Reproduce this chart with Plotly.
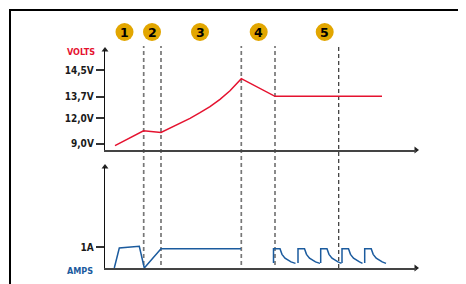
import plotly.graph_objects as go

# ---------------- data (schematic units) ----------------
# time axis: schematic time units measured from the axis origin
phase_numbers = ["1", "2", "3", "4", "5"]
phase_label_t = [19.5, 47.0, 95.0, 153.7, 219.7]
phase_bounds_t = [38.7, 56.0, 136.3, 170.0, 233.7]

# voltage axis is schematic (not linear in volts): tick levels + labels
volt_tick_labels = ["9,0V", "12,0V", "13,7V", "14,5V"]
volt_tick_levels = [6.5, 31.7, 53.3, 80.0]

volt_t = [10.0, 38.5, 56.0, 65.0, 75.0, 85.0, 95.0, 105.0, 115.0, 125.0, 136.3, 170.0, 277.0]
volt_level = [4.3, 19.2, 17.5, 21.7, 26.7, 31.7, 37.3, 43.3, 50.7, 59.3, 71.3, 53.7, 53.7]

# current axis in amps
amp_tick_labels = ["1A"]
amp_tick_values = [1.0]

amp_t = [9.3, 14.3, 34.3, 39.3, 56.0, 136.0, None,
         168.5, 168.5, 175.0, 177.0, 180.0, 183.0, 186.0, 190.5, None,
         193.0, 193.0, 199.5, 201.5, 204.5, 207.5, 210.5, 215.0, None,
         215.7, 215.7, 222.0, 224.0, 227.0, 230.0, 233.0, 236.5, None,
         237.0, 237.0, 243.5, 245.5, 248.5, 251.5, 254.5, 257.5, None,
         259.7, 259.7, 266.2, 268.2, 271.2, 274.2, 277.2, 281.0]
amp_a = [0.0, 0.95, 1.03, 0.0, 0.92, 0.92, None,
         0.24, 0.92, 0.92, 0.65, 0.47, 0.36, 0.29, 0.22, None,
         0.24, 0.92, 0.92, 0.65, 0.47, 0.36, 0.29, 0.22, None,
         0.24, 0.92, 0.92, 0.65, 0.47, 0.36, 0.29, 0.22, None,
         0.24, 0.92, 0.92, 0.65, 0.47, 0.36, 0.29, 0.22, None,
         0.24, 0.92, 0.92, 0.65, 0.47, 0.36, 0.29, 0.22]

# ---------------- styling / layout ----------------
OFF = 8                      # default page margin of the html body
W, H = 466 - OFF, 284 - OFF
PLOT_L, PLOT_R, PLOT_T, PLOT_B = 105, 416, 50, 268   # window pixel coords
ML, MT = PLOT_L - OFF, PLOT_T - OFF
MR, MB = W - (PLOT_R - OFF), H - (PLOT_B - OFF)
PW, PH = PLOT_R - PLOT_L, PLOT_B - PLOT_T
T_RANGE = [0, 311]
V_RANGE = [0, 100]
A_RANGE = [0, 4.81]


def px_x(px):
    return (px - PLOT_L) / PW


def px_y(py):
    return (PLOT_B - py) / PH


RED = "#e5122f"
BLUE = "#1b5b9e"
GOLD = "#e2a600"
FONT = "DejaVu Sans Condensed, Liberation Sans Narrow, Liberation Sans, Arial, sans-serif"

fig = go.Figure()
fig.add_trace(go.Scatter(x=volt_t, y=volt_level, mode="lines",
                         line=dict(color=RED, width=1.5), xaxis="x", yaxis="y",
                         hoverinfo="skip"))
fig.add_trace(go.Scatter(x=amp_t, y=amp_a, mode="lines", connectgaps=False,
                         line=dict(color=BLUE, width=1.5), xaxis="x2", yaxis="y2",
                         hoverinfo="skip"))
# axis arrow heads
fig.add_trace(go.Scatter(x=[T_RANGE[0], T_RANGE[1]], y=[V_RANGE[1], V_RANGE[0]], mode="markers",
                         marker=dict(symbol=["triangle-up", "triangle-right"], size=6, color="#222"),
                         cliponaxis=False, xaxis="x", yaxis="y", hoverinfo="skip"))
fig.add_trace(go.Scatter(x=[T_RANGE[0], T_RANGE[1]], y=[A_RANGE[1], A_RANGE[0]], mode="markers",
                         marker=dict(symbol=["triangle-up", "triangle-right"], size=6, color="#222"),
                         cliponaxis=False, xaxis="x2", yaxis="y2", hoverinfo="skip"))

shapes = []
# outer frame (cut by the image edges)
shapes.append(dict(type="rect", xref="paper", yref="paper",
                   x0=px_x(10), x1=px_x(466 + 20), y0=px_y(284 + 20), y1=px_y(10),
                   line=dict(color="#000", width=2), layer="below"))
# phase boundaries
for i, t in enumerate(phase_bounds_t):
    last = i == len(phase_bounds_t) - 1
    shapes.append(dict(type="line", xref="x", yref="paper", x0=t, x1=t,
                       y0=px_y(268 if last else 265), y1=px_y(46),
                       line=dict(color="#333" if last else "#777",
                                 width=1.2 if last else 1.7, dash="4px,3px"),
                       layer="below"))
# phase badges
for t in phase_label_t:
    shapes.append(dict(type="circle", xref="x", yref="paper",
                       xsizemode="pixel", ysizemode="pixel",
                       xanchor=t, yanchor=px_y(32),
                       x0=-9, x1=9, y0=-9, y1=9,
                       fillcolor=GOLD, line=dict(width=0)))

annotations = []
for n, t in zip(phase_numbers, phase_label_t):
    annotations.append(dict(x=t, y=px_y(32.5), xref="x", yref="paper", text="<b>%s</b>" % n,
                            showarrow=False, font=dict(family="DejaVu Sans, Arial", size=12.5, color="#000"),
                            xanchor="center", yanchor="middle"))
annotations.append(dict(x=px_x(97), y=px_y(52), xref="paper", yref="paper", text="<b>VOLTS</b>",
                        showarrow=False, xanchor="right", yanchor="middle",
                        font=dict(family=FONT, size=9, color=RED)))
annotations.append(dict(x=px_x(95), y=px_y(270.5), xref="paper", yref="paper", text="<b>AMPS</b>",
                        showarrow=False, xanchor="right", yanchor="middle",
                        font=dict(family=FONT, size=9, color=BLUE)))

axis_common = dict(showgrid=False, zeroline=False, showline=True, fixedrange=True)
tickfont = dict(family=FONT, size=10, color="#1a1a1a", weight="bold")

fig.update_layout(
    width=W, height=H,
    margin=dict(l=ML, r=MR, t=MT, b=MB),
    paper_bgcolor="white", plot_bgcolor="white",
    showlegend=False,
    xaxis=dict(domain=[0, 1], range=T_RANGE, anchor="y", showticklabels=False, ticks="",
               linecolor="#444", linewidth=2, **axis_common),
    xaxis2=dict(domain=[0, 1], range=T_RANGE, anchor="y2", matches="x", showticklabels=False, ticks="",
                linecolor="#444", linewidth=2, **axis_common),
    yaxis=dict(domain=[px_y(150), 1], range=V_RANGE, anchor="x",
               tickmode="array", tickvals=volt_tick_levels,
               ticktext=["<b>%s</b>" % s for s in volt_tick_labels],
               ticks="outside", ticklen=8, tickwidth=1.5, tickcolor="#333",
               linecolor="#111", linewidth=1.3, tickfont=tickfont, **axis_common),
    yaxis2=dict(domain=[0, px_y(167)], range=A_RANGE, anchor="x2",
                tickmode="array", tickvals=amp_tick_values,
                ticktext=["<b>%s</b>" % s for s in amp_tick_labels],
                ticks="outside", ticklen=8, tickwidth=1.5, tickcolor="#333",
                linecolor="#111", linewidth=1.3, tickfont=tickfont, **axis_common),
    shapes=shapes,
    annotations=annotations,
)

fig.write_html("out.html")
